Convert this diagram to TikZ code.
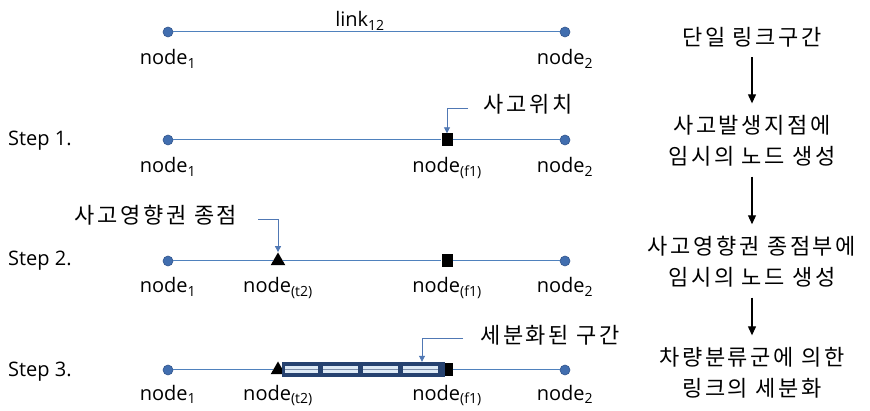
\documentclass[tikz,border=0pt]{standalone}
\usepackage{fontspec}
\setmainfont{Open Sans}
\newfontfamily\kr[LetterSpace=12]{Noto Sans CJK KR}
\usetikzlibrary{shapes.geometric,arrows.meta}
\definecolor{linkblue}{RGB}{79,129,189}
\definecolor{dotblue}{RGB}{65,110,175}
\definecolor{dotedge}{RGB}{50,85,140}
\definecolor{leadblue}{RGB}{80,120,180}
\definecolor{barnavy}{RGB}{38,66,112}
\definecolor{barlight}{RGB}{222,234,246}
\begin{document}
\begin{tikzpicture}[x=1pt,y=-1pt,
  link/.style={draw=linkblue, line width=1pt},
  dot/.style={circle, fill=dotblue, draw=dotedge, line width=0.6pt, inner sep=0pt, minimum size=10pt},
  sq/.style={rectangle, fill=black, inner sep=0pt, minimum width=11pt, minimum height=13pt},
  tri/.style={regular polygon, regular polygon sides=3, fill=black, inner sep=0pt, minimum size=17pt},
  lbl/.style={font=\fontsize{20}{24}\selectfont, anchor=base, inner sep=0pt},
  steplbl/.style={font=\fontsize{20}{24}\selectfont, anchor=west, inner sep=0pt},
  kor/.style={font=\kr\fontsize{22}{31}\selectfont, inner sep=0pt, align=center},
  lead/.style={draw=leadblue, line width=0.9pt, -{Triangle[length=6pt,width=6pt]}},
  flow/.style={draw=black, line width=1.1pt, -{Triangle[length=9pt,width=8pt]}, shorten <=10pt, shorten >=12pt}
]
\useasboundingbox (0,0) rectangle (870,411);

% ---- Row 0: single link
\node[dot] (a1) at (168,32) {};
\node[dot] (b1) at (565,32) {};
\draw[link] (a1) -- (b1);
\node[lbl] (lk) at (360,27) {link\textsubscript{12}};
\node[lbl] (a1l) at (168,65) {node\textsubscript{1}};
\node[lbl] (b1l) at (565,65) {node\textsubscript{2}};

% ---- Step 1
\node[steplbl] (s1) at (8,141) {Step 1.};
\node[dot] (a2) at (168,140) {};
\node[sq]  (f2) at (447,140) {};
\node[dot] (b2) at (565,140) {};
\draw[link] (a2) -- (f2) -- (b2);
\node[lbl] (a2l) at (168,173) {node\textsubscript{1}};
\node[lbl] (f2l) at (447,173) {node\textsubscript{(f1)}};
\node[lbl] (b2l) at (565,173) {node\textsubscript{2}};
\node[kor] (k2) at (528,104) {사고위치};
\coordinate (c2) at (468,108);
\draw[lead] (c2) -| (f2.north);

% ---- Step 2
\node[steplbl] (s2) at (8,261) {Step 2.};
\node[dot] (a3) at (168,261) {};
\node[tri] (t3) at (278,261) {};
\node[sq]  (f3) at (447,261) {};
\node[dot] (b3) at (565,261) {};
\draw[link] (a3) -- (t3) -- (f3) -- (b3);
\node[lbl] (a3l) at (168,293) {node\textsubscript{1}};
\node[lbl] (t3l) at (278,293) {node\textsubscript{(t2)}};
\node[lbl] (f3l) at (447,293) {node\textsubscript{(f1)}};
\node[lbl] (b3l) at (565,293) {node\textsubscript{2}};
\node[kor] (k3) at (156,215) {사고영향권 종점};
\coordinate (c3) at (258,219);
\draw[lead] (c3) -| (t3.north);

% ---- Step 3
\node[steplbl] (s3) at (8,372) {Step 3.};
\node[dot] (a4) at (168,370) {};
\node[tri] (t4) at (278,370) {};
\node[sq]  (f4) at (447,370) {};
\node[dot] (b4) at (565,370) {};
\draw[link] (a4) -- (t4);
\draw[link] (f4) -- (b4);
\node[rectangle, fill=barnavy, inner sep=0pt, minimum width=163pt, minimum height=15pt] (bar) at (363.5,369.5) {};
\foreach \xa/\xb in {285/318, 323/358, 363/398, 403/438}{
  \fill[barlight] (\xa,366) rectangle (\xb,373);
  \draw[barnavy!60, line width=0.4pt] (\xa,369.5) -- (\xb,369.5);
}
\node[lbl] (a4l) at (168,400) {node\textsubscript{1}};
\node[lbl] (t4l) at (278,400) {node\textsubscript{(t2)}};
\node[lbl] (f4l) at (447,400) {node\textsubscript{(f1)}};
\node[lbl] (b4l) at (565,400) {node\textsubscript{2}};
\node[kor] (k4) at (550,335) {세분화된 구간};
\coordinate (c4) at (463,338);
\draw[lead] (c4) -| ([xshift=58.5pt]bar.north);

% ---- Right column
\node[kor] (r1) at (752,37) {단일 링크구간};
\node[kor] (r2) at (752,141) {사고발생지점에\\임시의 노드 생성};
\node[kor] (r3) at (752,262) {사고영향권 종점부에\\임시의 노드 생성};
\node[kor] (r4) at (752,373) {차량분류군에 의한\\링크의 세분화};
\draw[flow] (r1) -- (r2);
\draw[flow] (r2) -- (r3);
\draw[flow] (r3) -- (r4);
\end{tikzpicture}
\end{document}
